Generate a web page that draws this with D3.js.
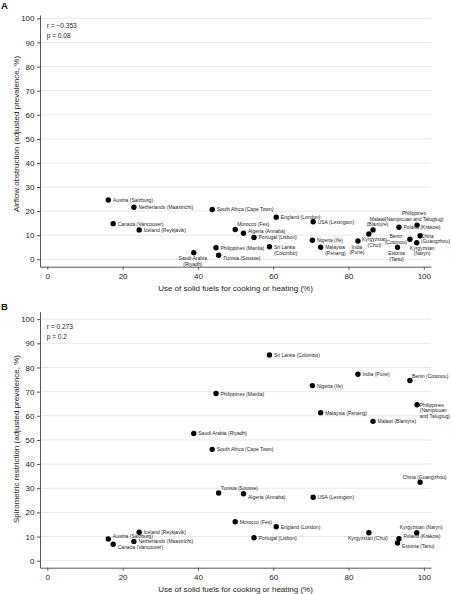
<!DOCTYPE html>
<html><head><meta charset="utf-8">
<script src="https://cdn.jsdelivr.net/npm/d3@7"></script>
<style>
html,body{margin:0;padding:0;background:#fff;}
svg{display:block;font-family:"Liberation Sans",Arial,Helvetica,sans-serif;}
</style></head><body>
<svg id="chart" width="452" height="594"></svg>
<script>
// ---- data ----
const sites = ["Austria (Salzburg)","Netherlands (Maastricht)","Canada (Vancouver)","Iceland (Reykjavik)",
  "Saudi Arabia (Riyadh)","South Africa (Cape Town)","Philippines (Manila)","Tunisia (Sousse)",
  "Morocco (Fes)","Algeria (Annaba)","Portugal (Lisbon)","Sri Lanka (Colombo)","England (London)",
  "Nigeria (Ife)","USA (Lexington)","Malaysia (Penang)","India (Pune)","Kyrgyzstan (Chui)",
  "Malawi (Blantyre)","Estonia (Tartu)","Poland (Krakow)","Benin (Cotonou)","Kyrgyzstan (Naryn)",
  "Philippines (Nampicuan and Talugtug)","China (Guangzhou)"];
const solidFuel = [16.2,23.0,17.5,24.4,38.9,43.8,44.8,45.5,49.9,52.1,54.9,59.0,60.8,70.4,70.6,72.6,82.5,85.4,86.5,93.0,93.4,96.3,98.1,98.2,99.0];
const airflowObstruction = [24.6,21.6,14.8,12.2,2.7,20.7,4.8,1.7,12.4,10.8,9.1,5.2,17.5,7.9,15.6,5.0,7.6,10.5,12.2,5.0,13.3,8.3,6.9,14.2,9.8];
const spirometricRestriction = [9.0,8.0,6.8,11.8,52.7,46.1,69.2,28.0,16.1,27.7,9.5,85.2,14.1,72.5,26.3,61.3,77.2,11.6,57.7,7.3,9.1,74.6,11.6,64.6,32.5];
const labelsA = ["Austria (Salzburg)","Netherlands (Maastricht)","Canada (Vancouver)","Iceland (Reykjavik)",
  "Saudi Arabia\n(Riyadh)","South Africa (Cape Town)","Philippines (Manila)","Tunisia (Sousse)",
  "Morocco (Fes)","Algeria (Annaba)","Portugal (Lisbon)","Sri Lanka\n(Colombo)","England (London)",
  "Nigeria (Ife)","USA (Lexington)","Malaysia\n(Penang)","India\n(Pune)","Kyrgyzstan\n(Chui)",
  "Malawi\n(Blantyre)","Estonia\n(Tartu)","Poland (Krakow)","Benin\n(Cotonou)","Kyrgyzstan\n(Naryn)",
  "Philippines\n(Nampicuan and Talugtug)","China\n(Guangzhou)"];
const labelsB = ["Austria (Salzburg)","Netherlands (Maastricht)","Canada (Vancouver)","Iceland (Reykjavik)",
  "Saudi Arabia (Riyadh)","South Africa (Cape Town)","Philippines (Manila)","Tunisia (Sousse)",
  "Morocco (Fes)","Algeria (Annaba)","Portugal (Lisbon)","Sri Lanka (Colombo)","England (London)",
  "Nigeria (Ife)","USA (Lexington)","Malaysia (Penang)","India (Pune)","Kyrgyzstan (Chui)",
  "Malawi (Blantyre)","Estonia (Tartu)","Poland (Krakow)","Benin (Cotonou)","Kyrgyzstan (Naryn)",
  "Philippines\n(Nampicuan\nand Talugtug)","China (Guangzhou)"];
// marker label clock positions
const labelPosA = [3,3,3,3,6,3,3,4,1,2,3,3,3,3,3,3,6,5,12,6,3,9,5,11,3];
const labelPosB = [2,3,4,3,3,3,3,1,3,4,3,3,3,3,3,3,3,6,3,4,2,1,12,3,12];
const xTicks = [0,20,40,60,80,100];
const yTicks = [0,10,20,30,40,50,60,70,80,90,100];
const statsA = ["r = \u22120.353","p = 0.08"];
const statsB = ["r = 0.273","p = 0.2"];
const xTitle = "Use of solid fuels for cooking or heating (%)";
const yTitleA = "Airflow obstruction (adjusted prevalence, %)";
const yTitleB = "Spirometric restriction (adjusted prevalence, %)";

// ---- drawing ----
const svg = d3.select("#chart");
const LEFT = 40, RIGHT = 431, EDGE = 450;
const xScale = d3.scaleLinear().domain([-1.94, 101.9]).range([LEFT, RIGHT]);

const panels = [
  {letter:"A", letterY:9, top:15, bottom:266.7, yDomain:[-3.07,101.4], values:airflowObstruction,
   labels:labelsA, pos:labelPosA, stats:statsA, yTitle:yTitleA, yTitleCenter:134, xTitleY:290.5},
  {letter:"B", letterY:310, top:311.7, bottom:567.7, yDomain:[-2.9,103.1], values:spirometricRestriction,
   labels:labelsB, pos:labelPosB, stats:statsB, yTitle:yTitleB, yTitleCenter:439, xTitleY:591.5}
];

const LS = 5.8; // label line spacing
panels.forEach(p => {
  const y = d3.scaleLinear().domain(p.yDomain).range([p.bottom, p.top]);
  const g = svg.append("g");
  // gridlines
  g.append("g").selectAll("line").data(yTicks).join("line")
    .attr("x1", LEFT).attr("x2", RIGHT)
    .attr("y1", d => y(d)).attr("y2", d => y(d))
    .attr("stroke", "#e8e8e8").attr("stroke-width", 1);
  // axes
  const xa = g.append("g").attr("transform", `translate(0,${p.bottom})`)
    .call(d3.axisBottom(xScale).tickValues(xTicks).tickSize(3).tickPadding(4).tickSizeOuter(0));
  const ya = g.append("g").attr("transform", `translate(${LEFT},0)`)
    .call(d3.axisLeft(y).tickValues(yTicks).tickSize(3).tickPadding(2.5).tickSizeOuter(0));
  [xa, ya].forEach(a => {
    a.select(".domain").attr("stroke", "#555").attr("stroke-width", 1);
    a.selectAll(".tick line").attr("stroke", "#555");
    a.selectAll(".tick text").attr("fill", "#222").attr("font-size", 8)
      .attr("font-family", '"Liberation Sans",Arial,sans-serif');
  });
  // titles
  g.append("text").attr("x", (LEFT + RIGHT) / 2).attr("y", p.xTitleY)
    .attr("text-anchor", "middle").attr("font-size", 8).attr("fill", "#222").text(xTitle);
  g.append("text").attr("transform", `translate(18.5,${p.yTitleCenter}) rotate(-90)`)
    .attr("text-anchor", "middle").attr("font-size", 8).attr("fill", "#222").text(p.yTitle);
  g.append("text").attr("x", 1).attr("y", p.letterY).attr("font-size", 9.5)
    .attr("font-weight", "bold").attr("fill", "#111").text(p.letter);
  p.stats.forEach((s, i) => {
    g.append("text").attr("x", 46.7).attr("y", y(100) + 9.6 + i * 10.3)
      .attr("font-size", 6.6).attr("fill", "#222").text(s);
  });
  // points
  const pts = sites.map((s, i) => ({site:s, x:solidFuel[i], y:p.values[i], label:p.labels[i], pos:p.pos[i]}));
  g.append("g").selectAll("circle").data(pts).join("circle")
    .attr("cx", d => xScale(d.x)).attr("cy", d => y(d.y)).attr("r", 2.7).attr("fill", "#000");
  // labels
  const lg = g.append("g").attr("font-size", 5).attr("fill", "#222");
  pts.forEach(d => {
    const cx = xScale(d.x), cy = y(d.y);
    const lines = d.label.split("\n");
    const n = lines.length;
    let firstY, mode, ax;
    switch (d.pos) {
      case 3: mode = "start"; ax = cx + 4.5; firstY = cy; break;
      case 2: mode = "start"; ax = cx + 4.5; firstY = cy - 2.5; break;
      case 4: mode = "start"; ax = cx + 4.5; firstY = cy + 3; break;
      case 1: mode = "start"; ax = cx + 2; firstY = cy - 5 - (n - 1) * LS; break;
      case 12: mode = "middle"; ax = cx + 4.5; firstY = cy - 5.5 - (n - 1) * LS; break;
      case 11: mode = "middle"; ax = cx - 3; firstY = cy - 6 - (n - 1) * LS; break;
      case 6: mode = "middle"; ax = cx - 1; firstY = cy + 5.7; break;
      case 5: mode = "middle"; ax = cx + 5.5; firstY = cy + 5; break;
      case 9: mode = "leftblock"; ax = cx - 3; firstY = cy - (n - 1) * LS / 2; break;
    }
    const t = lg.append("text");
    const tspans = lines.map((ln, i) => t.append("tspan").attr("y", firstY + i * LS)
      .attr("dominant-baseline", "central").text(ln));
    const w = d3.max(tspans, s => s.node().getComputedTextLength());
    if (mode === "leftblock") {
      t.attr("text-anchor", "middle");
      tspans.forEach(s => s.attr("x", ax - w / 2));
    } else {
      if (mode === "start" && ax + w > EDGE) ax = EDGE - w;
      if (mode === "middle" && ax + w / 2 > EDGE) ax = EDGE - w / 2;
      t.attr("text-anchor", mode);
      tspans.forEach(s => s.attr("x", ax));
    }
  });
});
</script>
</body></html>
